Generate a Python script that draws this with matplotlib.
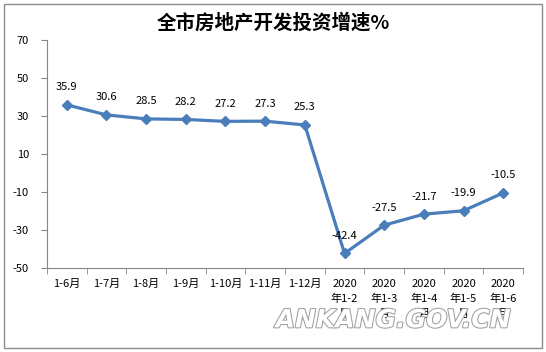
import matplotlib.pyplot as plt
import matplotlib.patheffects as pe
from matplotlib.patches import Rectangle
from matplotlib.ticker import FixedLocator
import numpy as np

plt.rcParams["font.family"] = ["Noto Sans CJK SC", "DejaVu Sans"]

categories = ["1-6月", "1-7月", "1-8月", "1-9月", "1-10月", "1-11月", "1-12月",
              "2020\n年1-2\n月", "2020\n年1-3\n月", "2020\n年1-4\n月",
              "2020\n年1-5\n月", "2020\n年1-6\n月"]
growth = [35.9, 30.6, 28.5, 28.2, 27.2, 27.3, 25.3, -42.4, -27.5, -21.7, -19.9, -10.5]
y_ticks = [-50, -30, -10, 10, 30, 50, 70]

fig = plt.figure(figsize=(5.46, 3.52), dpi=100)
ax = fig.add_axes([0.086, 0.239, 0.872, 0.647])

x = np.arange(len(categories))
ax.plot(x, growth, color="#4A7EBB", linewidth=2.3, marker="D", markersize=5.5)
for xi, v in zip(x, growth):
    ax.annotate(f"{v}", (xi, v), xytext=(0, 9), textcoords="offset points",
                ha="center", va="bottom", fontsize=8)

ax.set_xlim(-0.5, len(categories) - 0.5)
ax.set_ylim(-50, 70)
ax.set_yticks(y_ticks)
ax.set_yticklabels([str(t) for t in y_ticks], fontsize=8)
ax.set_xticks(x)
ax.set_xticklabels(categories, fontsize=8, linespacing=1.55, va="top")
ax.xaxis.set_minor_locator(FixedLocator(np.arange(-0.5, len(categories), 1)))
ax.tick_params(axis="x", which="major", length=0, pad=8)
ax.tick_params(axis="x", which="minor", length=4, color="#868686")
ax.tick_params(axis="y", length=4, color="#868686", pad=9)
for s in ("top", "right"):
    ax.spines[s].set_visible(False)
for s in ("left", "bottom"):
    ax.spines[s].set_color("#868686")

fig.text(0.5, 0.935, "全市房地产开发投资增速%", ha="center", va="center",
         fontsize=14, fontweight="bold")

fig.text(0.72, 0.09, "ANKANG.GOV.CN", ha="center", va="center", fontsize=18,
         fontweight="bold", style="italic", color="white", family="DejaVu Sans",
         path_effects=[pe.withStroke(linewidth=1.5, foreground="#a0a0a0")])

fig.patches.append(Rectangle((0.007, 0.01), 0.985, 0.98, transform=fig.transFigure,
                             fill=False, edgecolor="#8c8c8c", linewidth=1))

fig.savefig("out.png", dpi=100)
